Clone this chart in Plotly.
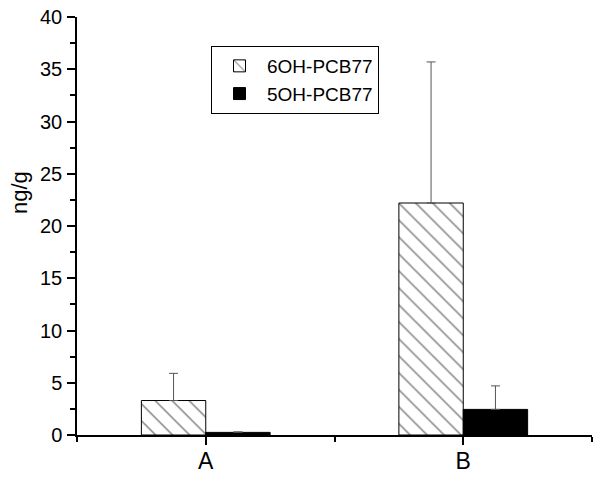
import plotly.graph_objects as go

categories = ["A", "B"]
series_names = ["6OH-PCB77", "5OH-PCB77"]
values_6oh = [3.3, 22.2]
errors_6oh = [2.6, 13.5]
values_5oh = [0.25, 2.45]
errors_5oh = [0.05, 2.25]
y_tick_vals = [0, 5, 10, 15, 20, 25, 30, 35, 40]

xpos = list(range(1, len(categories) + 1))
FONT = "Liberation Sans, Arial, sans-serif"

L, R, T, B = 77, 8, 17, 42
W, H = 600, 477
pw = W - L - R
ph = H - T - B

fig = go.Figure()
fig.add_trace(go.Bar(
    x=xpos, y=values_6oh, name=series_names[0],
    marker=dict(color="white", line=dict(color="black", width=1),
                pattern=dict(shape="\\", size=12, solidity=0.12, fgcolor="black", bgcolor="white")),
    error_y=dict(type="data", symmetric=False, array=errors_6oh, arrayminus=[0]*len(categories),
                 color="#555555", thickness=1, width=4.5),
))
fig.add_trace(go.Bar(
    x=xpos, y=values_5oh, name=series_names[1],
    marker=dict(color="black", line=dict(color="black", width=1)),
    error_y=dict(type="data", symmetric=False, array=errors_5oh, arrayminus=[0]*len(categories),
                 color="#555555", thickness=1, width=4.5),
))

fig.update_layout(
    width=W, height=H,
    margin=dict(l=L, r=R, t=T, b=B, autoexpand=False),
    paper_bgcolor="white", plot_bgcolor="white",
    barmode="group", bargap=0.5, bargroupgap=0,
    font=dict(family=FONT, color="black"),
    showlegend=True,
    legend=dict(x=(211 - L) / pw, y=(H - B - 46) / ph, xanchor="left", yanchor="top",
                bordercolor="black", borderwidth=1, bgcolor="white",
                font=dict(size=19, family=FONT), tracegroupgap=0,
                itemwidth=45),
    xaxis=dict(range=[0.5, 2.5], tickvals=xpos, ticktext=categories, automargin=False,
               showline=True, linecolor="black", linewidth=1.5,
               ticks="outside", ticklen=8, tickwidth=1.5, tickcolor="black",
               tickfont=dict(size=23), showgrid=False, zeroline=False,
               ticklabelstandoff=-3,
               minor=dict(tickvals=[0.5, 1.5, 2.5], ticks="outside", ticklen=5,
                          tickwidth=1.5, tickcolor="black")),
    yaxis=dict(range=[0, 40], tickvals=y_tick_vals, automargin=False,
               showline=True, linecolor="black", linewidth=1.5,
               ticks="outside", ticklen=8, tickwidth=1.5, tickcolor="black",
               tickfont=dict(size=20), showgrid=False, zeroline=False,
               ticklabelstandoff=1,
               minor=dict(dtick=2.5, ticks="outside", ticklen=5,
                          tickwidth=1.5, tickcolor="black")),
    annotations=[dict(text="ng/g", x=(19 - L) / pw, y=(H - B - 193) / ph,
                      xref="paper", yref="paper", xanchor="center", yanchor="middle",
                      showarrow=False, textangle=-90, font=dict(size=22, family=FONT))],
)

fig.write_html("out.html", config={"displayModeBar": False},
               post_script="document.body.style.margin='0';document.body.style.overflow='hidden';")
